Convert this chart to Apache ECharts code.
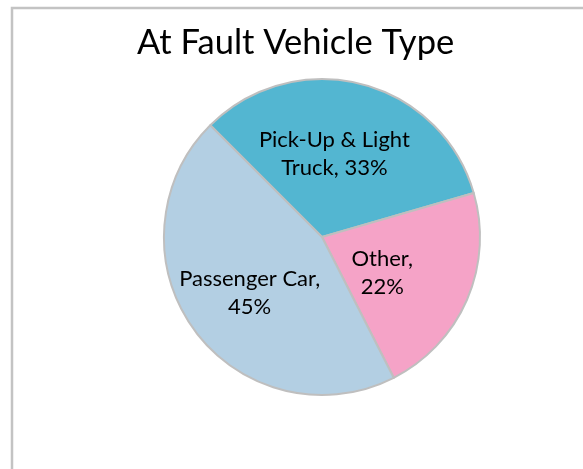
<!DOCTYPE html>
<html lang="en">
	<head>
		<meta charset="utf-8" />
		<title>At Fault Vehicle Type</title>
		<style>
			html, body { margin: 0; padding: 0; background: #fff; }
			#pie { width: 583px; height: 469px; }
		</style>
	</head>
	<body>
		<div id="pie"></div>
		<script type="text/javascript" src="https://cdn.jsdelivr.net/npm/echarts@6/dist/echarts.min.js"></script>
		<script type="text/javascript">
			// 数据
			var categories = ['Pick-Up & Light Truck', 'Other', 'Passenger Car'];
			var shares = [33, 22, 45];
			var colors = ['#53b6d1', '#f5a3c7', '#b3cfe3'];
			// label text as shown on the chart (wrapped)
			var labelText = ['Pick-Up & Light\nTruck', 'Other,\n', 'Passenger Car,\n'];

			var chart = echarts.init(document.getElementById('pie'));

			// small nudges so the labels sit where Excel put them
			var labelNudge = [[-8, -4], [-15, 3], [-6, 8]];

			var pieData = categories.map(function (name, i) {
				return {
					name: name,
					value: shares[i],
					itemStyle: { color: colors[i] },
					label: { offset: labelNudge[i] }
				};
			});

			var option = {
				animation: false,
				title: {
					text: 'At Fault Vehicle Type',
					left: 132,
					top: 20,
					textStyle: { fontFamily: 'Lato', fontWeight: 'normal', fontSize: 34.5, color: '#000' }
				},
				graphic: [{
					type: 'rect',
					shape: { x: 12, y: 8, width: 620, height: 520 },
					style: { fill: 'none', stroke: '#c3c3c3', lineWidth: 2.5 }
				}],
				series: [{
					type: 'pie',
					center: [322, 237],
					radius: 158,
					startAngle: 135,
					clockwise: true,
					data: pieData,
					itemStyle: { borderColor: '#bfbfbf', borderWidth: 2 },
					label: {
						position: 'inside',
						fontFamily: 'Lato',
						fontSize: 22,
						lineHeight: 28,
						color: '#000',
						formatter: function (p) {
							var i = categories.indexOf(p.name);
							var sep = i === 0 ? ', ' : '';
							return labelText[i] + sep + p.value + '%';
						}
					},
					labelLine: { show: false },
					emphasis: { disabled: true }
				}]
			};
			chart.setOption(option);

			window.onresize = function () {
				chart.resize();
			};
		</script>
	</body>
</html>
